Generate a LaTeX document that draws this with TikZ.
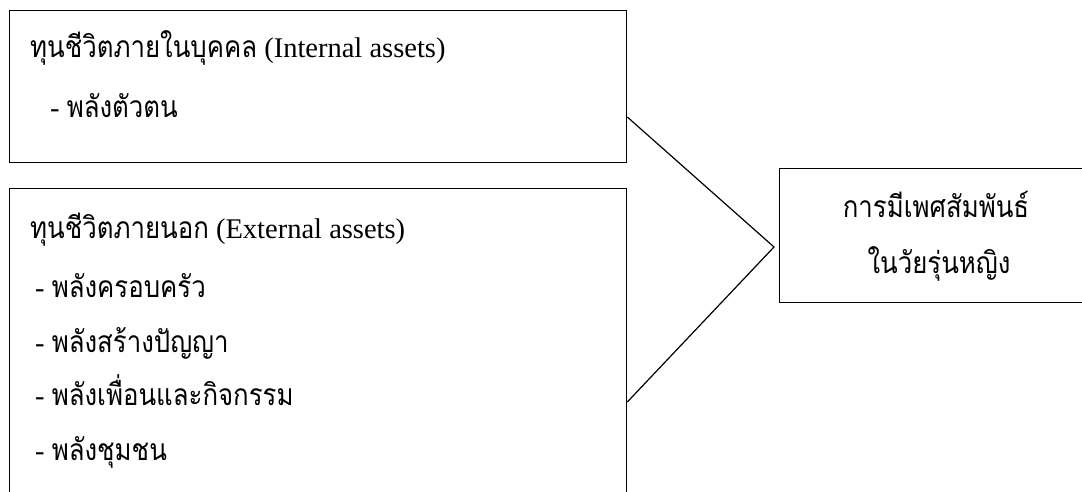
\documentclass[tikz,border=0pt]{standalone}
\usepackage{fontspec}
\setmainfont{Liberation Serif}
\newfontfamily\thaifont[Script=Thai,FakeStretch=0.86]{Loma}
\newcommand{\thx}[1]{{\thaifont\fontsize{30pt}{34pt}\selectfont #1}}
\begin{document}
\begin{tikzpicture}[x=1pt,y=-1pt,
  box/.style={draw, line width=1.3pt, inner sep=0pt, anchor=north west},
  lbl/.style={anchor=base west, inner sep=0pt, font=\fontsize{28.5pt}{32pt}\selectfont},
  ctr/.style={anchor=base, inner sep=0pt, font=\fontsize{28.5pt}{32pt}\selectfont},
  link/.style={line width=1.2pt}]
\clip (0,0) rectangle (1082,492);
\fill[white] (0,0) rectangle (1082,492);
% boxes
\node[box, minimum width=617pt, minimum height=152pt] (inner) at (9,10) {};
\node[box, minimum width=617pt, minimum height=330pt] (outer) at (9,188) {};
\node[box, minimum width=330pt, minimum height=134pt] (result) at (779,168) {};
% texts
\node[lbl] (t1) at (30,58) {\thx{ทุนชีวิตภายในบุคคล} (Internal assets)};
\node[lbl] (t2) at (50,118) {- \thx{พลังตัวตน}};
\node[lbl] (t3) at (30,238) {\thx{ทุนชีวิตภายนอก} (External assets)};
\node[lbl] (t4) at (35,297) {- \thx{พลังครอบครัว}};
\node[lbl] (t5) at (35,352) {- \thx{พลังสร้างปัญญา}};
\node[lbl] (t6) at (35,405) {- \thx{พลังเพื่อนและกิจกรรม}};
\node[lbl] (t7) at (35,460) {- \thx{พลังชุมชน}};
\node[ctr] (r1) at (936,218) {\thx{การมีเพศสัมพันธ์}};
\node[ctr] (r2) at (939,273) {\thx{ในวัยรุ่นหญิง}};
% connectors
\coordinate (meet) at (774,247);
\draw[link] (inner.north east |- 0,117) -- (meet) -- (outer.north east |- 0,402);
\end{tikzpicture}
\end{document}
